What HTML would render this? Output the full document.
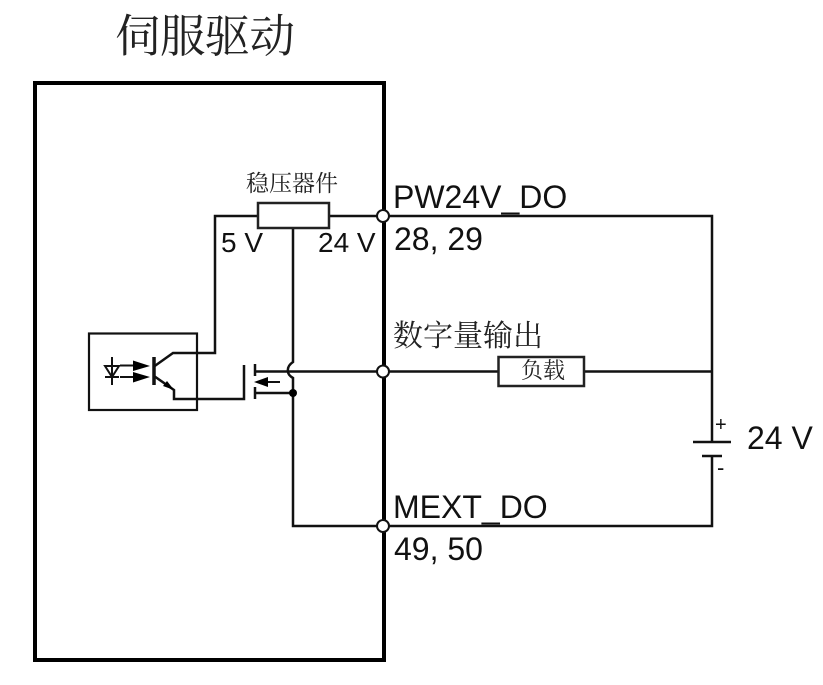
<!DOCTYPE html>
<html><head><meta charset="utf-8">
<style>
html,body{margin:0;padding:0;background:#fff;width:823px;height:685px;overflow:hidden}
svg{display:block}
.l{font-family:"Liberation Sans",sans-serif;fill:#111}
.c{font-family:"Liberation Serif","Noto Serif CJK SC",serif;fill:#222}
</style></head><body>
<svg width="823" height="685" viewBox="0 0 823 685" xmlns="http://www.w3.org/2000/svg">
<rect width="823" height="685" fill="#fff"/>
<text class="c" x="115" y="52" font-size="45.500" textLength="180">伺服驱动</text>
<rect x="35" y="83" width="349" height="577" fill="none" stroke="#000" stroke-width="4"/>
<g fill="none" stroke="#111" stroke-width="2.500">
<rect x="89" y="333.500" width="108" height="76.500" stroke-width="2.200"/>
<path d="M258 216H215V353H173L154 366.500"/>
<path d="M154 376L174 390V399H244V365"/>
<path d="M154 357V385" stroke-width="3.500"/>
<path d="M255 364V376M255 387V399" stroke-width="2.500"/>
<path d="M255 371.500H288M255 393H293"/>
<path d="M293 229V362Q287 366 288 371.500Q288 375 293 378V526H383"/>
<path d="M288 371.500H498M584 371.500H712"/>
<path d="M329 216H712V442M712 456V526H383"/>
<path d="M693 442H731M702 456H722"/>
<path d="M112 357V385M105 366H119M105 377H119M105 366L112 377L119 366Z" stroke-width="2"/>
<path d="M120 365.500H140M120 377H140M268 382H280" stroke-width="2"/>
</g>
<g fill="#000">
<path d="M133 360.500L150 366L133 371ZM133 372L150 377L133 382.500Z"/>
<path d="M254 382L268 377V387Z"/>
<path d="M174 390L163 386L167 381Z"/>
<circle cx="293" cy="393" r="4"/>
</g>
<rect x="258" y="203" width="71" height="25" fill="#fff" stroke="#222" stroke-width="2.500"/>
<rect x="498.500" y="357" width="85.500" height="29" fill="#fff" stroke="#222" stroke-width="2.500"/>
<g fill="#fff" stroke="#111" stroke-width="2">
<circle cx="383" cy="216" r="6"/>
<circle cx="383" cy="371.500" r="6"/>
<circle cx="383" cy="526" r="6"/>
</g>
<text class="c" x="246" y="191" font-size="23" textLength="92">稳压器件</text>
<text class="c" x="393" y="346" font-size="30">数字量输出</text>
<text class="c" x="521" y="378" font-size="22" textLength="44">负载</text>
<text class="l" x="221" y="252" font-size="28">5 V</text>
<text class="l" x="318" y="252" font-size="28">24 V</text>
<text class="l" x="393" y="208" font-size="32">PW24V_DO</text>
<text class="l" x="394" y="250" font-size="32">28, 29</text>
<text class="l" x="393" y="518" font-size="32">MEXT_DO</text>
<text class="l" x="394" y="560" font-size="32">49, 50</text>
<text class="l" x="747" y="449" font-size="32">24 V</text>
<text class="l" x="715" y="431" font-size="20">+</text>
<text class="l" x="717" y="475" font-size="22">-</text>
</svg>
</body></html>
